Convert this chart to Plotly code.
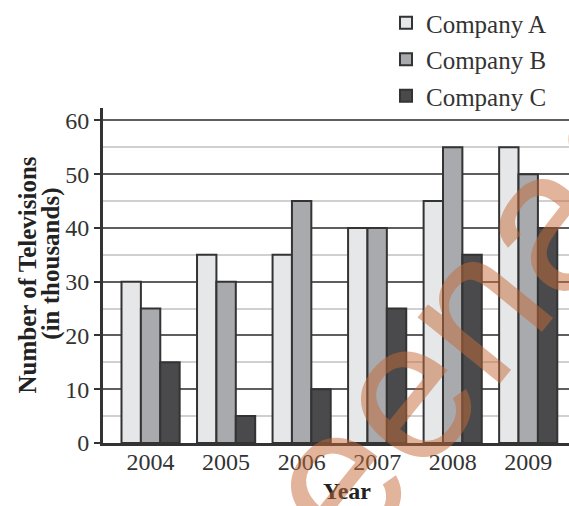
import plotly.graph_objects as go

years = ["2004", "2005", "2006", "2007", "2008", "2009"]
company_a = [30, 35, 35, 40, 45, 55]
company_b = [25, 30, 45, 40, 55, 50]
company_c = [15, 5, 10, 25, 35, 40]
series_names = ["Company A", "Company B", "Company C"]
series_colors = ["#e6e7e9", "#a9aaad", "#4a4a4c"]
y_ticks = [0, 10, 20, 30, 40, 50, 60]

W, H = 569, 506
ML, MR, MT, MB = 103, 0, 103, 63
PW, PH = W - ML - MR, H - MT - MB

def px_x(x):
    return (x - ML) / PW

def px_y(y):
    return (H - MB - y) / PH

SERIF = "Liberation Serif"

fig = go.Figure()
for name, vals, col in zip(series_names, [company_a, company_b, company_c], series_colors):
    fig.add_trace(go.Bar(
        x=years, y=vals, name=name, legendgroup=name,
        marker=dict(color=col, line=dict(color="#333333", width=2)),
    ))

fig.update_layout(
    width=W, height=H,
    margin=dict(l=ML, r=MR, t=MT, b=MB, pad=0),
    paper_bgcolor="white", plot_bgcolor="white",
    barmode="group", bargap=0.23, bargroupgap=0,
    font=dict(family=SERIF, color="#333333", size=24),
    showlegend=True,
    legend=dict(
        x=px_x(386), y=px_y(-7), xanchor="left", yanchor="top",
        font=dict(family=SERIF, size=25, color="#333333"),
        bgcolor="rgba(0,0,0,0)", tracegroupgap=1,
    ),
    xaxis=dict(
        type="category", range=[-0.63, 5.54],
        showline=True, linecolor="#333333", linewidth=3,
        ticks="", showgrid=False, zeroline=False,
        ticklabelstandoff=-5,
        tickfont=dict(family=SERIF, size=24, color="#333333"),
    ),
    yaxis=dict(
        range=[0, 62.3], tickvals=y_ticks,
        showline=True, linecolor="#333333", linewidth=3,
        ticks="outside", ticklen=6, tickwidth=2, tickcolor="#333333",
        showgrid=True, gridcolor="#5e5e5e", gridwidth=1.5,
        zeroline=False,
        minor=dict(dtick=5, showgrid=True, gridcolor="#d0d0d0", gridwidth=1.5, ticks=""),
        tickfont=dict(family=SERIF, size=24, color="#333333"),
    ),
)

annotations = [
    dict(text="<b>Number of Televisions</b>", x=px_x(27), y=px_y(273), textangle=-90,
         font=dict(family=SERIF, size=25, color="#222222")),
    dict(text="<b>(in thousands)</b>", x=px_x(51), y=px_y(261), textangle=-90,
         font=dict(family=SERIF, size=25, color="#222222")),
    dict(text="<b>Year</b>", x=px_x(347), y=px_y(492),
         font=dict(family=SERIF, size=24, color="#222222")),
    dict(text="eenadu", x=px_x(507), y=px_y(262), textangle=-51,
         font=dict(family="Liberation Sans", size=200, color="rgba(195,105,55,0.5)")),
]
for a in annotations:
    a.update(xref="paper", yref="paper", xanchor="center", yanchor="middle", showarrow=False)
    fig.add_annotation(**a)

fig.write_html("out.html")
